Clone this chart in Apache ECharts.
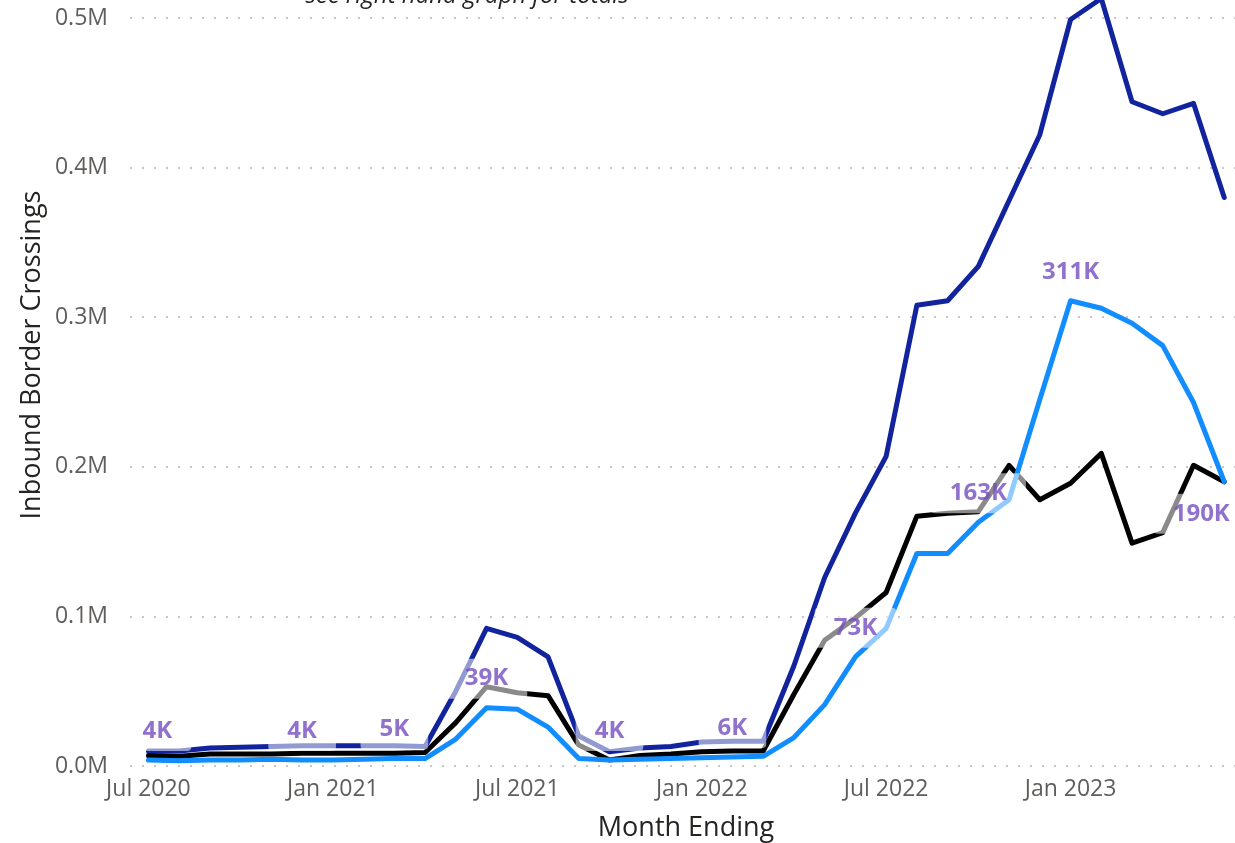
<!DOCTYPE html>
<html>
<head>
<meta charset="utf-8">
<script src="https://cdn.jsdelivr.net/npm/echarts@6/dist/echarts.min.js"></script>
<style>
  html, body { margin: 0; padding: 0; background: #ffffff; }
  #chart { width: 1235px; height: 843px; }
</style>
</head>
<body>
<div id="chart"></div>
<script>
// Month-ending categories, one point per month
const months = [
  'Jul 2020','Aug 2020','Sep 2020','Oct 2020','Nov 2020','Dec 2020',
  'Jan 2021','Feb 2021','Mar 2021','Apr 2021','May 2021','Jun 2021',
  'Jul 2021','Aug 2021','Sep 2021','Oct 2021','Nov 2021','Dec 2021',
  'Jan 2022','Feb 2022','Mar 2022','Apr 2022','May 2022','Jun 2022',
  'Jul 2022','Aug 2022','Sep 2022','Oct 2022','Nov 2022','Dec 2022',
  'Jan 2023','Feb 2023','Mar 2023','Apr 2023','May 2023','Jun 2023'
];

// Inbound border crossings per month
const darkBlueValues = [
  10000, 10000, 12000, 12500, 13000, 13500,
  13500, 13500, 13500, 13000, 50000, 92000,
  86000, 73000, 20000, 9500, 12000, 13000,
  16000, 16500, 16500, 67000, 126000, 169000,
  207000, 308000, 311000, 334000, 378000, 422000,
  499000, 513000, 444000, 436000, 443000, 380000
];
const blackValues = [
  7000, 6500, 8000, 8000, 8000, 8500,
  8500, 8500, 8500, 9000, 29000, 53000,
  49000, 47000, 14000, 4000, 7000, 8000,
  9500, 10000, 10000, 48000, 84000, 99000,
  116000, 167000, 169000, 170000, 201000, 178000,
  189000, 209000, 149000, 156000, 201000, 190000
];
const lightBlueValues = [
  4000, 3500, 4000, 4000, 4500, 4000,
  4000, 4500, 5000, 5000, 18000, 39000,
  38000, 26000, 5000, 4000, 4500, 5000,
  5500, 6000, 6500, 19000, 41000, 73000,
  92000, 142000, 142000, 163000, 178000, 245000,
  311000, 306000, 296000, 281000, 243000, 190000
];

// Months whose light-blue value carries a data label
const labelledMonths = [
  'Jul 2020','Dec 2020','Mar 2021','Jun 2021','Oct 2021',
  'Feb 2022','Jun 2022','Oct 2022','Jan 2023','Jun 2023'
];

// Y-axis tick values
const yTicks = [0, 100000, 200000, 300000, 400000, 500000];
// X-axis labelled months
const xTickMonths = ['Jul 2020','Jan 2021','Jul 2021','Jan 2022','Jul 2022','Jan 2023'];

const toPoints = vals => vals.map((v, i) => [i, v]);
const fmtK = v => Math.round(v / 1000) + 'K';
const fmtM = v => (v / 1000000).toFixed(1) + 'M';

const lastIdx = months.length - 1;
const labelData = labelledMonths.map(m => {
  const i = months.indexOf(m);
  const item = { value: [i, lightBlueValues[i]] };
  if (i === 0) {
    item.label = { offset: [9, 0] };
  } else if (i === lastIdx) {
    item.label = { position: 'bottom', distance: 11, offset: [-23, 0] };
  }
  return item;
});

const LINE_WIDTH = 5;

function lineSeries(name, values, color, z) {
  return {
    type: 'line',
    name: name,
    data: toPoints(values),
    z: z,
    showSymbol: false,
    clip: false,
    silent: true,
    emphasis: { disabled: true },
    itemStyle: { color: color },
    lineStyle: { color: color, width: LINE_WIDTH, cap: 'round', join: 'round' }
  };
}

const chart = echarts.init(document.getElementById('chart'), null, { renderer: 'canvas' });

chart.setOption({
  animation: false,
  backgroundColor: '#ffffff',
  grid: { left: 130, right: 0, top: 18, bottom: 77, containLabel: false, outerBoundsMode: 'none' },
  xAxis: {
    type: 'value',
    min: -0.6,
    max: 35.35,
    axisLine: { show: false },
    axisTick: { show: false },
    splitLine: { show: false },
    axisLabel: {
      customValues: xTickMonths.map(m => months.indexOf(m)),
      formatter: v => months[Math.round(v)],
      color: '#605E5C',
      fontFamily: 'Open Sans',
      fontSize: 23,
      margin: 12
    }
  },
  yAxis: {
    type: 'value',
    min: yTicks[0],
    max: yTicks[yTicks.length - 1],
    interval: yTicks[1] - yTicks[0],
    axisLine: { show: false },
    axisTick: { show: false },
    splitLine: {
      show: true,
      lineStyle: { color: '#C8C6C4', width: 2, type: [2, 10] }
    },
    axisLabel: {
      formatter: fmtM,
      color: '#605E5C',
      fontFamily: 'Open Sans',
      fontSize: 23,
      margin: 22
    }
  },
  series: [
    lineSeries('Dark blue', darkBlueValues, '#12239E', 2),
    lineSeries('Black', blackValues, '#000000', 3),
    lineSeries('Light blue', lightBlueValues, '#118DFF', 4),
    {
      // data labels for the light-blue line, drawn above all lines
      type: 'scatter',
      name: 'Light blue labels',
      data: labelData,
      z: 10,
      silent: true,
      symbolSize: 2,
      clip: false,
      itemStyle: { color: 'rgba(0,0,0,0)' },
      emphasis: { disabled: true },
      label: {
        show: true,
        position: 'top',
        distance: 8,
        formatter: p => fmtK(p.value[1]),
        color: '#744EC2',
        fontFamily: 'Open Sans',
        fontWeight: 'bold',
        fontSize: 24,
        lineHeight: 32,
        backgroundColor: 'rgba(255,255,255,0.68)',
        borderRadius: 4,
        padding: [4, 19]
      }
    }
  ],
  graphic: [
    {
      type: 'text',
      x: 32,
      y: 355,
      rotation: Math.PI / 2,
      style: {
        text: 'Inbound Border Crossings',
        fill: '#252423',
        font: '500 27px "Open Sans"',
        align: 'center',
        verticalAlign: 'middle'
      }
    },
    {
      type: 'text',
      x: 686,
      y: 828,
      style: {
        text: 'Month Ending',
        fill: '#252423',
        font: '500 27px "Open Sans"',
        align: 'center',
        verticalAlign: 'middle'
      }
    },
    {
      type: 'text',
      x: 467,
      y: -4,
      style: {
        text: 'see right hand graph for totals',
        fill: '#252423',
        font: 'italic 24px "Open Sans"',
        align: 'center',
        verticalAlign: 'middle'
      }
    }
  ]
});
</script>
</body>
</html>
